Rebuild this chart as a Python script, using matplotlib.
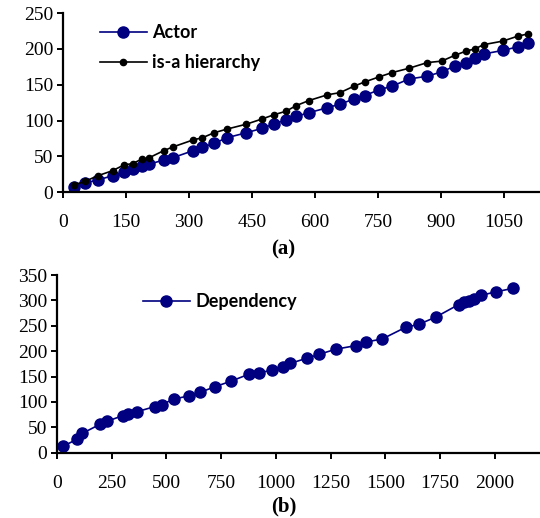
import numpy as np
import matplotlib.pyplot as plt

# panel (a)
x_a = [26, 52, 83, 118, 145, 166, 187, 205, 240, 261, 310, 332, 360, 390, 437, 473, 502, 531,
       556, 586, 630, 660, 693, 719, 753, 784, 824, 868, 902, 933, 960, 981, 1002, 1048, 1084, 1108]
actor = [7.5, 13, 17, 23, 28, 33, 36, 39, 45, 48, 58, 63, 68, 76, 83, 89, 95, 101,
         106, 111, 118, 123, 130, 135, 143, 148, 158, 162, 168, 176, 181, 188, 193, 198, 203, 208]
isa = [10, 15, 23, 30, 38, 40, 46, 48, 58, 63, 73, 76, 83, 88, 95, 102, 108, 113,
       121, 128, 136, 139, 148, 154, 161, 167, 173, 181, 183, 191, 197, 200, 206, 211, 218, 221]

# panel (b)
x_b = [29, 93, 115, 196, 229, 300, 323, 367, 447, 478, 536, 603, 654, 721, 795, 878, 922, 980,
       1030, 1065, 1140, 1198, 1274, 1365, 1409, 1485, 1592, 1653, 1729, 1835, 1858, 1881, 1905,
       1936, 2005, 2084]
dependency = [13, 27, 38, 56, 62, 73, 76, 81, 91, 95, 106, 112, 119, 130, 141, 155, 158, 162,
              169, 176, 186, 194, 204, 211, 218, 224, 247, 253, 267, 292, 296, 299, 303,
              310, 317, 324]

navy = '#000080'
leg_font = {'family': 'Lato', 'weight': 'bold', 'size': 13}

fig = plt.figure(figsize=(5.4, 5.18), dpi=100)
ax1 = fig.add_axes([0.1167, 0.629, 0.883, 0.3456])
ax2 = fig.add_axes([0.1056, 0.126, 0.894, 0.343])

ax1.plot(x_a, actor, color=navy, lw=1.2, marker='o', ms=8, label='Actor')
ax1.plot(x_a, isa, color='black', lw=1.2, marker='o', ms=4.5, label='is-a hierarchy')
ax1.set_xlim(0, 1136)
ax1.set_ylim(0, 250)
ax1.set_xticks(np.arange(0, 1051, 150))
ax1.set_yticks(np.arange(0, 251, 50))
ax1.legend(loc='upper left', bbox_to_anchor=(0.0776, 0.94), frameon=False, prop=leg_font,
           handlelength=2.6, handletextpad=0.3, labelspacing=0.75, borderaxespad=0, borderpad=0)

ax2.plot(x_b, dependency, color=navy, lw=1.2, marker='o', ms=8, label='Dependency')
ax2.set_xlim(0, 2205)
ax2.set_ylim(0, 350)
ax2.set_xticks(np.arange(0, 2001, 250))
ax2.set_yticks(np.arange(0, 351, 50))
ax2.legend(loc='upper left', bbox_to_anchor=(0.178, 0.9), frameon=False, prop=leg_font,
           handlelength=2.6, handletextpad=0.3, borderaxespad=0, borderpad=0)

for ax in (ax1, ax2):
    for s in ('top', 'right'):
        ax.spines[s].set_visible(False)
    for s in ('left', 'bottom'):
        ax.spines[s].set_linewidth(1.6)
    ax.tick_params(direction='out', length=4, width=1.4, pad=3)
    ax.tick_params(axis='x', pad=12)
    for lab in ax.get_xticklabels() + ax.get_yticklabels():
        lab.set_fontfamily('Liberation Serif')
        lab.set_fontsize(14)

fig.text(0.524, 0.519, '(a)', ha='center', va='center', family='Liberation Serif',
         fontweight='bold', fontsize=15)
fig.text(0.526, 0.023, '(b)', ha='center', va='center', family='Liberation Serif',
         fontweight='bold', fontsize=15)

fig.savefig('out.png', dpi=100)
